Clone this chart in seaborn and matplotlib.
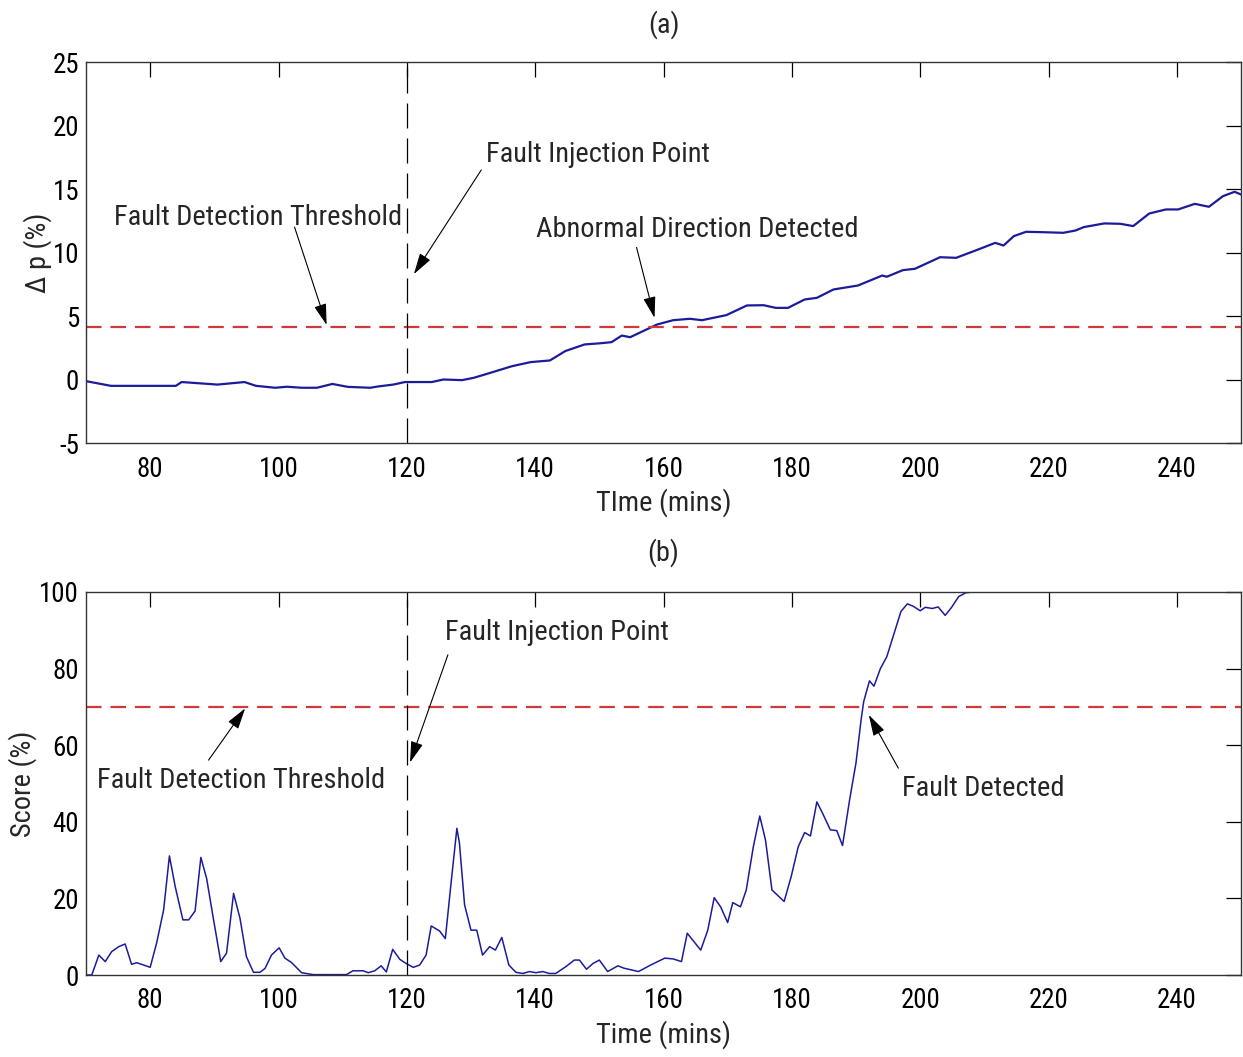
import numpy as np
import pandas as pd
import seaborn as sns
import matplotlib
matplotlib.use("Agg")
import matplotlib.pyplot as plt
import matplotlib.font_manager as fm

# ---------------- data ----------------
t_a = [70, 73.9, 84.0, 84.9, 90.5, 94.7, 96.5, 99.5, 101.3, 103.6,
       106.0, 108.4, 110.8, 114.3, 115.5, 117.9, 119.7, 123.9, 125.7, 128.6,
       130.4, 132.2, 136.4, 139.3, 142.3, 144.7, 147.7, 150.1, 151.9, 153.5,
       154.8, 159.0, 161.5, 164.1, 166.0, 169.8, 173.0, 175.6, 177.5, 179.4,
       182.0, 183.9, 186.5, 190.3, 194.1, 194.8, 197.3, 199.2, 203.1, 205.6,
       208.8, 211.7, 213.0, 214.6, 216.5, 219.1, 222.3, 224.2, 225.5, 228.7,
       231.2, 233.2, 235.7, 238.3, 240.2, 242.8, 245.0, 247.2, 249.0, 250]
dp = [-0.13, -0.5, -0.5, -0.2, -0.4, -0.2, -0.5, -0.65, -0.57, -0.65,
      -0.65, -0.35, -0.58, -0.65, -0.55, -0.4, -0.2, -0.2, 0, -0.05,
      0.13, 0.4, 1.05, 1.37, 1.5, 2.24, 2.76, 2.85, 2.94, 3.46,
      3.33, 4.33, 4.67, 4.78, 4.67, 5.07, 5.83, 5.85, 5.64, 5.64,
      6.30, 6.43, 7.09, 7.40, 8.19, 8.09, 8.61, 8.72, 9.63, 9.58,
      10.19, 10.76, 10.55, 11.29, 11.63, 11.60, 11.55, 11.73, 12.0, 12.29,
      12.26, 12.08, 13.07, 13.39, 13.39, 13.83, 13.6, 14.44, 14.78, 14.57]

t_b = [70, 70.9, 72.0, 73.0, 74.0, 75.1, 76.1, 77.1, 77.9, 79.0,
       80.0, 81.0, 82.1, 83.0, 83.9, 85.1, 86.0, 87.0, 87.9, 88.8,
       89.8, 91.0, 91.9, 93.0, 94.0, 95.0, 96.1, 97.1, 97.9, 98.9,
       100.1, 101.0, 102.0, 103.6, 105.4, 110.6, 111.6, 113.2, 114.0, 115.0,
       116.0, 116.8, 117.8, 118.9, 119.9, 121.0, 122.0, 123.0, 123.8, 125.1,
       126.0, 126.9, 127.8, 128.2, 129.0, 130.0, 130.9, 131.8, 132.9, 133.8,
       134.8, 135.9, 137.0, 138.1, 139.1, 140.1, 141.2, 142.2, 143.2, 144.8,
       146.1, 146.9, 148.0, 149.0, 150.0, 151.3, 152.9, 153.8, 156.1, 158.0,
       160.2, 161.5, 162.8, 163.7, 165.8, 166.9, 167.9, 168.9, 170.0, 170.8,
       172.0, 172.9, 174.0, 175.0, 175.9, 176.9, 178.8, 179.9, 181.0, 182.0,
       182.9, 183.9, 184.8, 186.0, 187.0, 187.9, 189.0, 190.0, 190.8, 191.2,
       192.1, 192.8, 193.8, 194.8, 195.7, 197.0, 198.0, 198.9, 200.0, 200.8,
       201.9, 202.8, 203.9, 204.9, 206.0, 207.1, 208.2, 250]
score = [0, 0, 5.2, 3.5, 6.1, 7.4, 8.1, 2.8, 3.2, 2.6,
         2.0, 8.3, 17.0, 31.1, 23.1, 14.4, 14.4, 16.7, 30.7, 25.2,
         15.2, 3.5, 5.7, 21.3, 14.8, 4.8, 0.7, 0.7, 1.7, 5.2,
         7.1, 4.4, 3.3, 0.6, 0.1, 0.1, 1.1, 1.1, 0.6, 1.1,
         2.4, 0.8, 6.7, 4.1, 3.0, 2.0, 2.6, 5.2, 12.8, 11.5,
         9.5, 24.1, 38.3, 34.4, 18.3, 11.7, 11.7, 5.2, 7.4, 6.5,
         9.8, 2.6, 0.7, 0.4, 0.9, 0.6, 0.9, 0.4, 0.4, 2.2,
         3.9, 3.9, 1.5, 3.0, 3.9, 0.9, 2.4, 1.8, 0.9, 2.6,
         4.4, 4.2, 3.5, 10.9, 6.5, 11.7, 20.2, 17.8, 13.7, 18.9,
         17.8, 22.2, 33.5, 41.5, 35.2, 22.2, 19.2, 25.7, 33.5, 37.2,
         36.3, 45.2, 42.2, 37.9, 37.7, 33.8, 45.7, 55.4, 66.7, 71.4,
         76.8, 75.4, 80.0, 83.1, 87.9, 94.9, 96.9, 96.3, 95.1, 96.0,
         95.7, 96.1, 93.9, 96.0, 98.8, 99.8, 100, 100]

threshold_a = 4.1
threshold_b = 70
fault_time = 120
x_ticks = [80, 100, 120, 140, 160, 180, 200, 220, 240]
y_ticks_a = [-5, 0, 5, 10, 15, 20, 25]
y_ticks_b = [0, 20, 40, 60, 80, 100]

# ---------------- style ----------------
sns.set_style("white")
names = {f.name for f in fm.fontManager.ttflist}
if 'Liberation Sans Narrow' in names:
    FAM, SC, TSC = 'Liberation Sans Narrow', 1.0, 0.95
elif 'Roboto Condensed' in names:
    FAM, SC, TSC = 'Roboto Condensed', 0.95, 0.9
else:
    FAM, SC, TSC = 'Liberation Sans', 0.85, 0.82
plt.rcParams['font.family'] = [FAM, 'Liberation Sans', 'DejaVu Sans']
plt.rcParams['axes.unicode_minus'] = False

BLUE = '#1c1c9a'
RED = '#cc3a3a'
FS = 21.5 * SC
TFS = 21.5 * TSC

fig = plt.figure(figsize=(12.43, 10.57), dpi=100)
W, H = 1243, 1057
L, R = 86, 1241
ax_a = fig.add_axes([L / W, 1 - 443 / H, (R - L) / W, (443 - 62) / H])
ax_b = fig.add_axes([L / W, 1 - 975 / H, (R - L) / W, (975 - 592) / H])

df_a = pd.DataFrame({'t': t_a, 'v': dp})
df_b = pd.DataFrame({'t': t_b, 'v': score})
sns.lineplot(data=df_a, x='t', y='v', ax=ax_a, color=BLUE, lw=1.6, estimator=None, sort=False)
sns.lineplot(data=df_b, x='t', y='v', ax=ax_b, color=BLUE, lw=1.1, estimator=None, sort=False)

for ax, thr, yt, ylim in [(ax_a, threshold_a, y_ticks_a, (-5, 25)),
                          (ax_b, threshold_b, y_ticks_b, (0, 100))]:
    ax.axhline(thr, color=RED, lw=1.6, dashes=(7, 4))
    ax.axvline(fault_time, color='black', lw=0.9, dashes=(20, 8))
    ax.set_xlim(70, 250)
    ax.set_ylim(*ylim)
    ax.set_xticks(x_ticks)
    ax.set_yticks(yt)
    ax.tick_params(direction='in', length=11, width=0.9, top=True, right=True,
                   labelsize=TFS, colors='black')
    ax.tick_params(axis='x', pad=9)
    ax.tick_params(axis='y', pad=5)
    for s in ax.spines.values():
        s.set_color('#333333')
        s.set_linewidth(1.0)
        s.set_visible(True)

ax_a.set_xlabel('TIme (mins)', fontsize=FS)
ax_a.xaxis.set_label_coords(0.5, -0.118)
ax_a.set_ylabel('\u0394 p (%)', fontsize=FS, va='center')
ax_a.yaxis.set_label_coords(-0.042, 0.5)
ax_b.set_xlabel('Time (mins)', fontsize=FS)
ax_b.xaxis.set_label_coords(0.5, -0.118)
ax_b.set_ylabel('Score (%)', fontsize=FS, va='center')
ax_b.yaxis.set_label_coords(-0.055, 0.5)

ax_a.text(0.5, 1.097, '(a)', transform=ax_a.transAxes, ha='center', va='center', fontsize=FS)
ax_b.text(0.5, 1.102, '(b)', transform=ax_b.transAxes, ha='center', va='center', fontsize=FS)

arrow = dict(arrowstyle='-|>,head_length=1.3,head_width=0.38', color='black', lw=0.8,
             shrinkA=0, shrinkB=0)

# top annotations
ax_a.text(74.3, 12.75, 'Fault Detection Threshold', fontsize=FS, ha='left', va='center')
ax_a.annotate('', xy=(107.5, 4.3), xytext=(102.5, 12.0), arrowprops=arrow)
ax_a.text(132.3, 17.7, 'Fault Injection Point', fontsize=FS, ha='left', va='center')
ax_a.annotate('', xy=(121.1, 8.3), xytext=(131.6, 16.5), arrowprops=arrow)
ax_a.text(140.2, 11.8, 'Abnormal Direction Detected', fontsize=FS, ha='left', va='center')
ax_a.annotate('', xy=(158.6, 4.86), xytext=(155.8, 10.4), arrowprops=arrow)

# bottom annotations
ax_b.text(125.9, 89.3, 'Fault Injection Point', fontsize=FS, ha='left', va='center')
ax_b.annotate('', xy=(120.5, 55.5), xytext=(126.4, 83.6), arrowprops=arrow)
ax_b.text(71.7, 50.9, 'Fault Detection Threshold', fontsize=FS, ha='left', va='center')
ax_b.annotate('', xy=(94.8, 69.6), xytext=(89.1, 56.1), arrowprops=arrow)
ax_b.text(197.2, 48.8, 'Fault Detected', fontsize=FS, ha='left', va='center')
ax_b.annotate('', xy=(192.0, 67.9), xytext=(196.6, 54.0), arrowprops=arrow)

fig.savefig('out.png', dpi=100)
